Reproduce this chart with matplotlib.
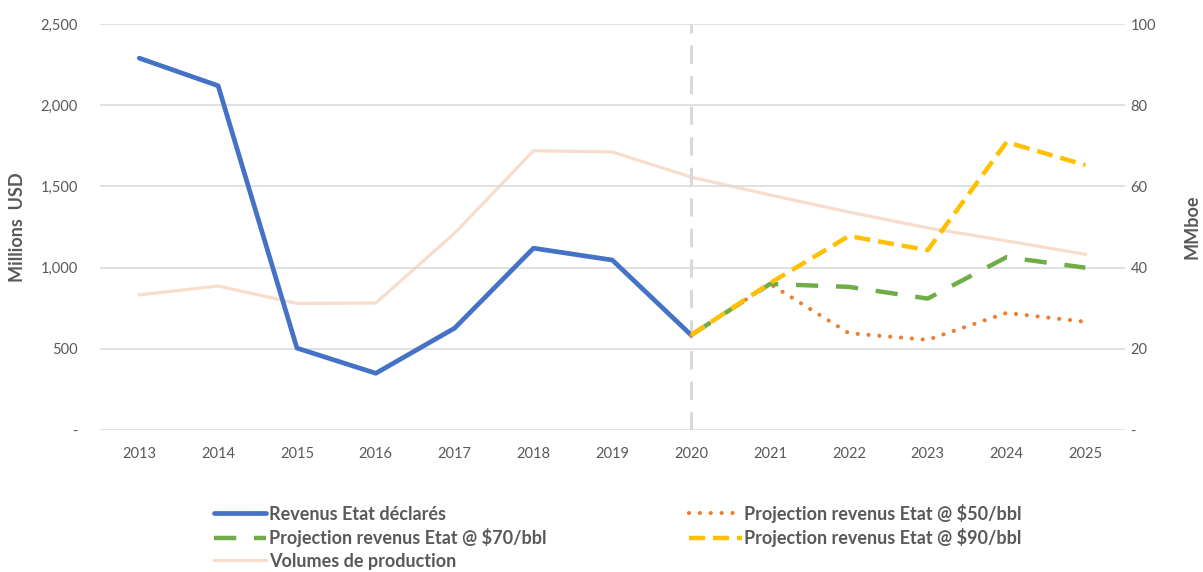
import numpy as np
from matplotlib import pyplot as plt

annees = list(range(2013, 2026))
nan = np.nan

# Millions USD (axe de gauche)
revenus_declares = [2290, 2120, 505, 350, 628, 1120, 1047, 585, nan, nan, nan, nan, nan]
proj_50 = [nan, nan, nan, nan, nan, nan, nan, 585, 900, 597, 556, 722, 667]
proj_70 = [nan, nan, nan, nan, nan, nan, nan, 585, 900, 882, 810, 1065, 1000]
proj_90 = [nan, nan, nan, nan, nan, nan, nan, 585, 905, 1195, 1108, 1773, 1632]
# MMboe (axe de droite)
volumes = [33.3, 35.5, 31.2, 31.3, 48.5, 68.8, 68.5, 62.3, 57.9, 53.7, 49.8, 46.6, 43.3]

ticks_gauche = [0, 500, 1000, 1500, 2000, 2500]
labels_gauche = ["-", "500", "1,000", "1,500", "2,000", "2,500"]
ticks_droite = [0, 20, 40, 60, 80, 100]
labels_droite = ["-", "20", "40", "60", "80", "100"]

plt.rcParams['font.family'] = ['Lato', 'DejaVu Sans']
gris = "#595959"

fig = plt.figure(figsize=(12.03, 5.72), dpi=100)
ax = fig.add_axes([0.083, 0.248, 0.852, 0.71])
ax2 = ax.twinx()
ax.set_zorder(ax2.get_zorder() + 1)
ax.patch.set_visible(False)

# volumes sur l'axe de droite (derriere)
l_vol, = ax2.plot(annees, volumes, color="#F8DDCD", lw=2.3, label="Volumes de production")

# ligne verticale 2020
ax.axvline(2020, color="#D9D9D9", lw=2.2, ls=(0, (6, 4)), zorder=1)

l_rev, = ax.plot(annees, revenus_declares, color="#4472C4", lw=3.4, solid_capstyle="round",
                 solid_joinstyle="round", label="Revenus Etat déclarés", zorder=3)
l_50, = ax.plot(annees, proj_50, color="#ED7D31", lw=3.0, ls=(0, (0.01, 2.6)), dash_capstyle="round",
                label="Projection revenus Etat @ $50/bbl", zorder=3)
l_70, = ax.plot(annees, proj_70, color="#70AD47", lw=3.2, ls=(0, (5, 4)),
                label="Projection revenus Etat @ $70/bbl", zorder=3)
l_90, = ax.plot(annees, proj_90, color="#FFC000", lw=3.2, ls=(0, (3.6, 1.8)),
                label="Projection revenus Etat @ $90/bbl", zorder=4)

ax.set_xlim(2012.5, 2025.5)
ax.set_ylim(0, 2500)
ax2.set_ylim(0, 100)
ax.set_xticks(annees)
ax.set_xticklabels([str(a) for a in annees], fontsize=10.5, color=gris)
ax.set_yticks(ticks_gauche)
ax.set_yticklabels(labels_gauche, fontsize=10.5, color=gris)
ax2.set_yticks(ticks_droite)
ax2.set_yticklabels(labels_droite, fontsize=10.5, color=gris)
ax.tick_params(length=0, pad=16)
ax.tick_params(axis="x", pad=12)
ax2.tick_params(length=0, pad=4)
ax.grid(axis="y", color="#D9D9D9", lw=1.1)
ax.set_axisbelow(True)
for a in (ax, ax2):
    for s in a.spines.values():
        s.set_visible(False)

ax.set_ylabel("Millions  USD", fontsize=13, fontweight="bold", color=gris, labelpad=10)
ax2.set_ylabel("MMboe", fontsize=13, fontweight="bold", color=gris, labelpad=20)

handles = [l_rev, l_70, l_vol, l_50, l_90]
leg = fig.legend(handles=handles, labels=[h.get_label() for h in handles], ncol=2,
                 loc="upper left", bbox_to_anchor=(0.172, 0.132), frameon=False,
                 fontsize=13, handlelength=2.9, handletextpad=0.15, columnspacing=7.9,
                 labelspacing=0.3, borderaxespad=0)
for t in leg.get_texts():
    t.set_fontweight("bold")
    t.set_color(gris)

fig.savefig("out.png", dpi=100)
